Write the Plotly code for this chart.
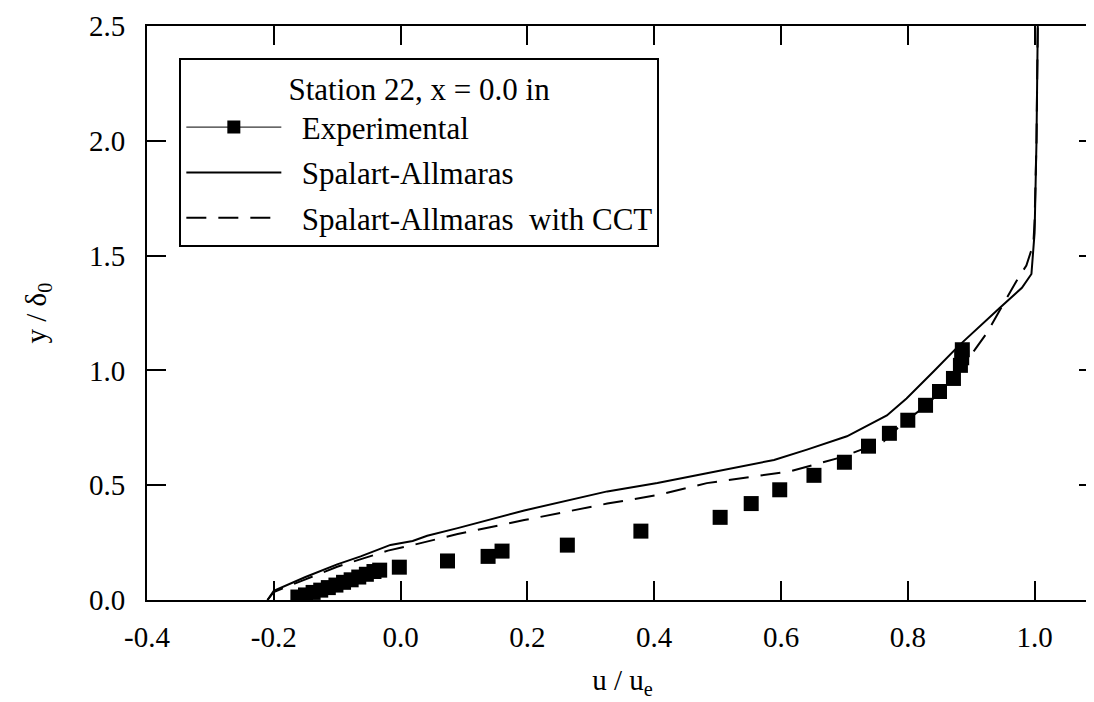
import plotly.graph_objects as go

# Experimental data
exp_u = [-0.162, -0.150, -0.138, -0.126, -0.114, -0.102, -0.090, -0.078, -0.066, -0.054,
         -0.042, -0.033, -0.002, 0.074, 0.138, 0.160, 0.263, 0.379, 0.504, 0.553,
         0.598, 0.652, 0.700, 0.738, 0.771, 0.800, 0.828, 0.850, 0.872, 0.883, 0.885, 0.886]
exp_y = [0.013, 0.022, 0.033, 0.043, 0.054, 0.065, 0.077, 0.088, 0.100, 0.112,
         0.124, 0.130, 0.143, 0.170, 0.190, 0.213, 0.239, 0.300, 0.360, 0.420,
         0.480, 0.543, 0.600, 0.670, 0.726, 0.783, 0.848, 0.908, 0.965, 1.022, 1.055, 1.090]

# Spalart-Allmaras
sa_u = [-0.21, -0.20, -0.15, -0.10, -0.063, -0.016, 0.019, 0.042, 0.09, 0.195, 0.326, 0.405,
        0.483, 0.589, 0.641, 0.704, 0.767, 0.798, 0.841, 0.881, 0.944, 0.980, 0.995, 1.000,
        1.003, 1.005]
sa_y = [0.0, 0.04, 0.10, 0.155, 0.19, 0.24, 0.257, 0.28, 0.313, 0.39, 0.473, 0.51,
        0.552, 0.61, 0.655, 0.713, 0.804, 0.878, 0.996, 1.109, 1.27, 1.36, 1.42, 1.60,
        2.00, 2.50]

# Spalart-Allmaras with CCT
cct_u = [-0.21, -0.20, -0.15, -0.10, -0.06, -0.02, 0.02, 0.09, 0.195, 0.326, 0.405, 0.483,
         0.614, 0.693, 0.762, 0.787, 0.830, 0.870, 0.905, 0.924, 0.971, 0.987, 0.998, 1.000,
         1.003, 1.005]
cct_y = [0.0, 0.035, 0.09, 0.145, 0.18, 0.215, 0.24, 0.287, 0.348, 0.42, 0.457, 0.509,
         0.56, 0.62, 0.691, 0.757, 0.85, 0.96, 1.087, 1.16, 1.387, 1.457, 1.55, 1.65,
         2.00, 2.50]

x_ticks = [-0.4, -0.2, 0.0, 0.2, 0.4, 0.6, 0.8, 1.0]
x_ticklabels = ["-0.4", "-0.2", "0.0", "0.2", "0.4", "0.6", "0.8", "1.0"]
y_ticks = [0.0, 0.5, 1.0, 1.5, 2.0, 2.5]
y_ticklabels = ["0.0", "0.5", "1.0", "1.5", "2.0", "2.5"]

FONT = "Liberation Serif, Times New Roman, serif"
PAD = "\u00a0\u00a0"

fig = go.Figure()

fig.add_trace(go.Scatter(x=exp_u, y=exp_y, mode="markers",
                         marker=dict(symbol="square", size=15, color="black"),
                         showlegend=False))
fig.add_trace(go.Scatter(x=[None], y=[None], mode="lines+markers", name=PAD + "Experimental",
                         line=dict(color="black", width=1),
                         marker=dict(symbol="square", size=13, color="black"),
                         legendgroup="a"))
fig.add_trace(go.Scatter(x=sa_u, y=sa_y, mode="lines", name=PAD + "Spalart-Allmaras",
                         line=dict(color="black", width=2), legendgroup="b"))
fig.add_trace(go.Scatter(x=cct_u, y=cct_y, mode="lines",
                         name=PAD + "Spalart-Allmaras\u00a0 with CCT",
                         line=dict(color="black", width=2, dash="20px,12px"),
                         legendgroup="c"))

axis_common = dict(showline=True, linecolor="black", linewidth=2, mirror="ticks",
                   ticks="inside", ticklen=19, tickwidth=2, tickcolor="black",
                   showgrid=False, zeroline=False,
                   tickfont=dict(family=FONT, size=29, color="black"))

fig.update_layout(
    width=1094, height=702,
    margin=dict(l=139, r=2, t=17, b=110),
    paper_bgcolor="white", plot_bgcolor="white",
    font=dict(family=FONT, size=31, color="black"),
    xaxis=dict(range=[-0.4, 1.1], tickvals=x_ticks, ticktext=x_ticklabels,
               ticklabelstandoff=10,
               title=dict(text="u / u<sub>e</sub>", font=dict(family=FONT, size=29), standoff=18),
               **axis_common),
    yaxis=dict(range=[0, 2.5], tickvals=y_ticks, ticktext=y_ticklabels,
               ticklabelstandoff=14,
               title=dict(text="y / δ<sub>0</sub>", font=dict(family=FONT, size=29), standoff=34),
               **axis_common),
    legend=dict(x=0.034, y=0.944, xanchor="left", yanchor="top",
                bgcolor="white", bordercolor="black", borderwidth=2,
                itemwidth=95, tracegroupgap=2, traceorder="grouped",
                title=dict(text="Station 22, x = 0.0 in", side="top center",
                           font=dict(family=FONT, size=31)),
                font=dict(family=FONT, size=31)),
)

fig.write_html("out.html")
